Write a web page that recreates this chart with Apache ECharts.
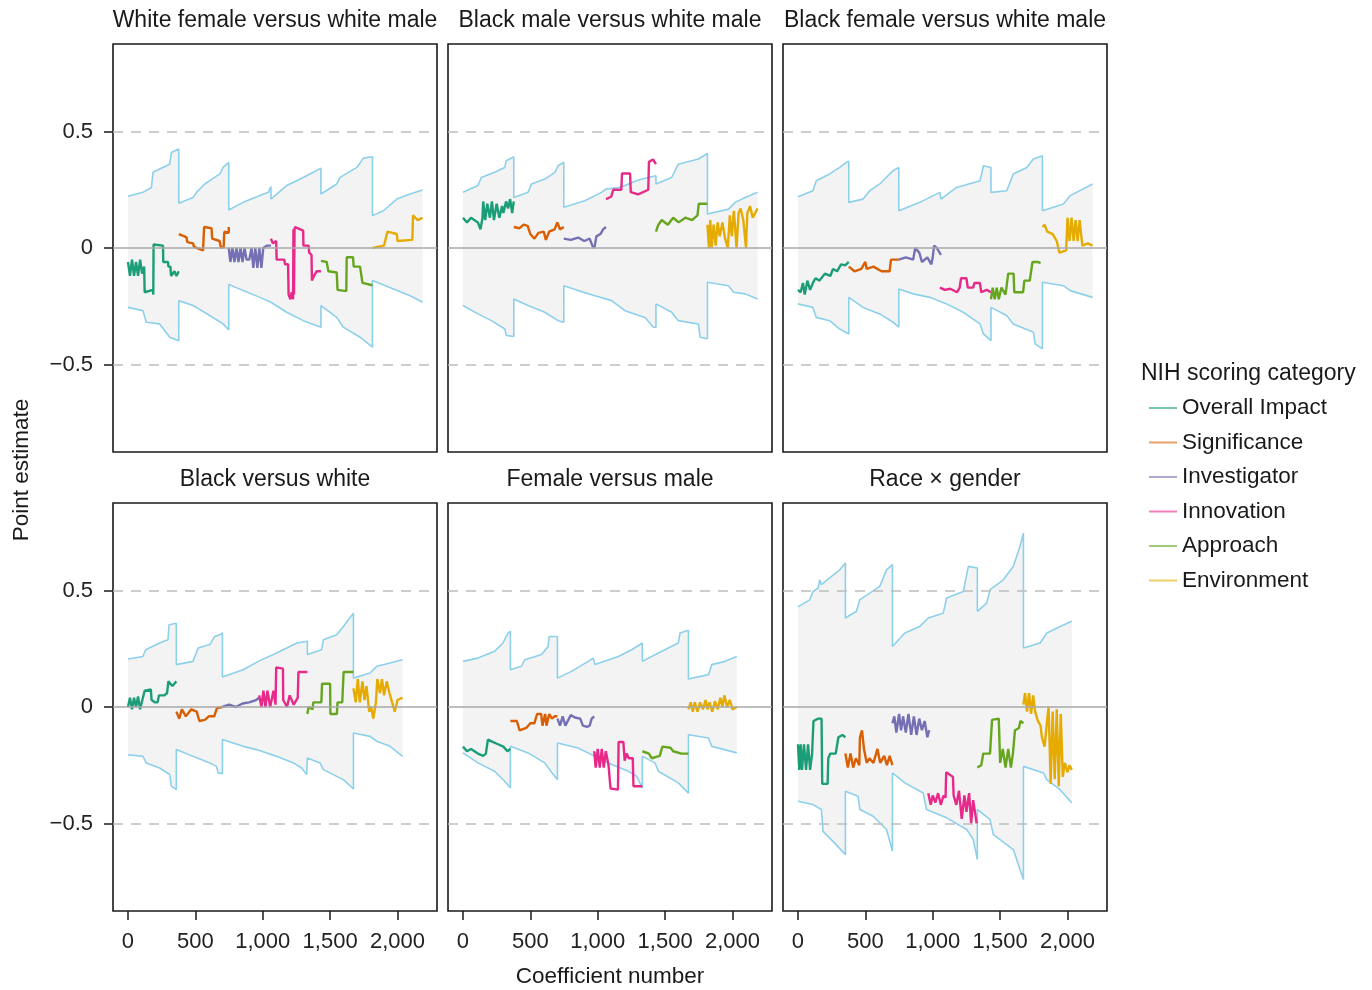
<!DOCTYPE html>
<html>
<head>
<meta charset="utf-8">
<script src="https://cdn.jsdelivr.net/npm/echarts@6/dist/echarts.min.js"></script>
<style>
html,body{margin:0;padding:0;background:#fff;}
#chart{width:1372px;height:990px;}
</style>
</head>
<body>
<div id="chart"></div>
<script>
// ---------- labels ----------
const panelTitles = ['White female versus white male','Black male versus white male','Black female versus white male','Black versus white','Female versus male','Race \u00d7 gender'];
const categories = ['Overall Impact','Significance','Investigator','Innovation','Approach','Environment'];
const xTicks = [0,500,1000,1500,2000];
const yTicks = [-0.5,0,0.5];
const legendTitle = 'NIH scoring category';
const xAxisTitle = 'Coefficient number';
const yAxisTitle = 'Point estimate';

// ---------- Panel A: White female versus white male ----------
const aUpper = [[0,0.222],[111,0.239],[174,0.26],[186,0.325],[235,0.339],[310,0.36],[322,0.41],[377,0.425],[377,0.192],[483,0.217],[508,0.239],[570,0.275],[607,0.289],[682,0.318],[706,0.346],[748,0.368],[748,0.163],[855,0.196],[979,0.225],[1041,0.239],[1061,0.264],[1061,0.21],[1177,0.268],[1252,0.289],[1351,0.318],[1432,0.343],[1432,0.232],[1549,0.275],[1574,0.303],[1698,0.346],[1747,0.386],[1814,0.392],[1814,0.139],[1896,0.16],[1995,0.21],[2094,0.232],[2186,0.249]];
const aLower = [[0,-0.255],[111,-0.269],[136,-0.319],[235,-0.326],[310,-0.383],[377,-0.398],[377,-0.226],[483,-0.247],[607,-0.29],[706,-0.326],[748,-0.352],[748,-0.157],[855,-0.183],[979,-0.212],[1061,-0.233],[1177,-0.276],[1301,-0.312],[1432,-0.34],[1432,-0.247],[1549,-0.298],[1598,-0.34],[1722,-0.383],[1814,-0.426],[1814,-0.14],[1970,-0.176],[2094,-0.205],[2186,-0.233]];
const aOI = [[0,-0.06],[15,-0.12],[30,-0.05],[45,-0.12],[60,-0.06],[75,-0.12],[90,-0.05],[105,-0.11],[120,-0.08],[124,-0.19],[185,-0.18],[188,-0.2],[190,0.015],[260,0.01],[262,-0.06],[297,-0.06],[300,-0.08],[315,-0.08],[320,-0.12],[345,-0.1],[360,-0.12],[377,-0.1]];
const aSig = [[377,0.06],[420,0.05],[435,0.045],[440,0.025],[483,0.02],[490,0.005],[557,-0.01],[565,0.09],[620,0.085],[625,0.04],[680,0.03],[690,0.0],[710,0.005],[715,0.07],[748,0.065],[748,0.09]];
const aInv = [[748,0.0],[760,-0.06],[775,0.0],[790,-0.06],[805,0.0],[820,-0.06],[835,0.0],[850,-0.06],[865,0.0],[880,-0.05],[900,-0.05],[917,0.0],[930,-0.085],[945,0.0],[960,-0.085],[975,0.0],[990,-0.085],[1004,0.0],[1030,0.01],[1061,0.01]];
const aInn = [[1061,0.04],[1075,0.02],[1100,0.03],[1103,-0.05],[1160,-0.05],[1165,-0.07],[1188,-0.07],[1192,-0.2],[1205,-0.22],[1215,-0.19],[1225,-0.22],[1228,0.08],[1232,-0.2],[1236,0.08],[1240,0.09],[1300,0.075],[1302,0.01],[1340,0.01],[1345,-0.02],[1362,-0.03],[1365,-0.14],[1380,-0.12],[1400,-0.1],[1432,-0.1]];
const aApp = [[1432,-0.055],[1475,-0.06],[1487,-0.1],[1549,-0.105],[1555,-0.18],[1620,-0.185],[1623,-0.04],[1670,-0.04],[1675,-0.08],[1722,-0.08],[1740,-0.15],[1814,-0.16]];
const aEnv = [[1814,0.0],[1900,0.01],[1925,0.07],[1995,0.06],[2000,0.03],[2110,0.035],[2115,0.14],[2150,0.12],[2186,0.13]];

// ---------- Panel B: Black male versus white male ----------
const bUpper = [[0,0.239],[111,0.268],[136,0.303],[235,0.325],[310,0.346],[322,0.375],[377,0.392],[377,0.217],[483,0.239],[508,0.275],[607,0.296],[682,0.325],[706,0.353],[748,0.368],[748,0.175],[904,0.203],[1028,0.239],[1061,0.253],[1153,0.26],[1202,0.268],[1301,0.292],[1376,0.303],[1432,0.31],[1432,0.275],[1549,0.303],[1598,0.36],[1747,0.382],[1814,0.406],[1814,0.146],[1970,0.167],[2020,0.196],[2094,0.217],[2186,0.239]];
const bLower = [[0,-0.247],[111,-0.283],[211,-0.312],[310,-0.348],[322,-0.376],[377,-0.38],[377,-0.219],[483,-0.247],[607,-0.276],[706,-0.312],[748,-0.319],[748,-0.162],[855,-0.183],[979,-0.205],[1103,-0.226],[1202,-0.269],[1351,-0.298],[1413,-0.34],[1432,-0.34],[1432,-0.24],[1549,-0.276],[1598,-0.312],[1747,-0.326],[1760,-0.383],[1814,-0.39],[1814,-0.147],[1970,-0.162],[2007,-0.19],[2094,-0.197],[2186,-0.219]];
const bOI = [[0,0.13],[30,0.11],[60,0.13],[111,0.11],[130,0.08],[145,0.13],[150,0.2],[165,0.12],[180,0.19],[200,0.13],[215,0.2],[230,0.12],[250,0.19],[270,0.13],[290,0.18],[300,0.15],[320,0.2],[335,0.17],[350,0.21],[365,0.15],[377,0.2]];
const bSig = [[377,0.09],[420,0.085],[450,0.1],[480,0.095],[500,0.06],[530,0.04],[560,0.065],[600,0.07],[615,0.035],[640,0.07],[680,0.08],[700,0.11],[720,0.08],[748,0.09]];
const bInv = [[748,0.04],[800,0.035],[855,0.045],[900,0.03],[940,0.04],[960,0.01],[975,0.0],[990,0.05],[1020,0.06],[1040,0.08],[1061,0.09]];
const bInn = [[1061,0.21],[1100,0.22],[1115,0.25],[1175,0.25],[1180,0.32],[1240,0.32],[1245,0.24],[1300,0.23],[1375,0.25],[1380,0.37],[1410,0.38],[1432,0.36]];
const bApp = [[1432,0.07],[1450,0.1],[1475,0.12],[1520,0.1],[1560,0.13],[1600,0.11],[1650,0.13],[1700,0.12],[1740,0.14],[1750,0.19],[1814,0.19]];
const bEnv = [[1814,0.1],[1825,0.0],[1835,0.12],[1845,0.0],[1860,0.1],[1875,0.01],[1890,0.11],[1905,0.05],[1925,0.11],[1945,0.04],[1965,0.0],[1980,0.14],[1995,0.05],[2010,0.16],[2030,0.0],[2045,0.15],[2060,0.17],[2080,0.12],[2100,0.0],[2110,0.15],[2130,0.18],[2150,0.13],[2186,0.17]];

// ---------- Panel C: Black female versus white male ----------
const cUpper = [[0,0.22],[111,0.246],[136,0.289],[235,0.318],[310,0.346],[359,0.368],[377,0.372],[377,0.196],[483,0.21],[533,0.246],[607,0.275],[706,0.332],[748,0.346],[748,0.16],[904,0.196],[1053,0.239],[1061,0.21],[1177,0.26],[1351,0.289],[1376,0.353],[1432,0.346],[1432,0.239],[1549,0.246],[1598,0.318],[1698,0.346],[1747,0.382],[1814,0.396],[1814,0.16],[1970,0.189],[2020,0.225],[2186,0.275]];
const cLower = [[0,-0.24],[111,-0.255],[136,-0.298],[235,-0.312],[310,-0.348],[377,-0.369],[377,-0.212],[483,-0.255],[607,-0.283],[706,-0.319],[748,-0.34],[748,-0.176],[855,-0.197],[979,-0.212],[1103,-0.24],[1227,-0.276],[1351,-0.326],[1376,-0.369],[1432,-0.398],[1432,-0.255],[1549,-0.29],[1598,-0.326],[1747,-0.362],[1760,-0.412],[1814,-0.433],[1814,-0.147],[1970,-0.162],[2020,-0.183],[2186,-0.212]];
const cOI = [[0,-0.18],[20,-0.19],[37,-0.15],[50,-0.2],[70,-0.14],[90,-0.18],[111,-0.15],[130,-0.13],[160,-0.14],[200,-0.11],[240,-0.12],[260,-0.09],[290,-0.1],[320,-0.07],[350,-0.075],[377,-0.06]];
const cSig = [[377,-0.08],[420,-0.1],[470,-0.09],[500,-0.06],[510,-0.09],[560,-0.08],[620,-0.1],[680,-0.1],[690,-0.05],[748,-0.05]];
const cInv = [[748,-0.05],[800,-0.04],[855,-0.05],[870,0.0],[900,-0.02],[920,-0.06],[960,-0.04],[990,-0.07],[1000,-0.04],[1010,0.01],[1030,0.0],[1061,-0.03]];
const cInn = [[1053,-0.17],[1090,-0.18],[1130,-0.175],[1180,-0.19],[1200,-0.17],[1210,-0.13],[1250,-0.13],[1260,-0.17],[1300,-0.17],[1310,-0.15],[1350,-0.15],[1360,-0.19],[1400,-0.18],[1432,-0.19]];
const cApp = [[1432,-0.22],[1445,-0.17],[1460,-0.22],[1475,-0.17],[1490,-0.22],[1510,-0.17],[1540,-0.2],[1560,-0.11],[1600,-0.11],[1605,-0.19],[1670,-0.19],[1680,-0.14],[1720,-0.14],[1740,-0.06],[1780,-0.06],[1800,-0.065]];
const cEnv = [[1814,0.09],[1830,0.1],[1850,0.07],[1890,0.06],[1920,0.03],[1940,-0.02],[1990,-0.01],[2000,0.13],[2015,0.03],[2030,0.13],[2045,0.03],[2060,0.12],[2075,0.03],[2090,0.12],[2110,0.01],[2150,0.02],[2186,0.01]];

// ---------- Panel D: Black versus white ----------
const dUpper = [[0,0.206],[111,0.217],[131,0.246],[235,0.275],[297,0.289],[305,0.353],[359,0.36],[359,0.182],[483,0.196],[520,0.253],[607,0.268],[644,0.303],[682,0.31],[701,0.318],[701,0.129],[855,0.16],[967,0.196],[979,0.203],[1103,0.232],[1252,0.275],[1331,0.282],[1331,0.225],[1437,0.246],[1450,0.289],[1549,0.31],[1598,0.346],[1673,0.403],[1673,0.124],[1797,0.146],[1846,0.175],[1945,0.189],[2037,0.203]];
const dLower = [[0,-0.205],[111,-0.212],[136,-0.24],[235,-0.262],[310,-0.29],[322,-0.34],[359,-0.355],[359,-0.183],[483,-0.212],[607,-0.24],[657,-0.255],[669,-0.283],[701,-0.286],[701,-0.14],[855,-0.169],[954,-0.183],[1103,-0.212],[1227,-0.24],[1289,-0.262],[1326,-0.29],[1331,-0.29],[1331,-0.219],[1425,-0.24],[1450,-0.269],[1598,-0.312],[1673,-0.352],[1673,-0.112],[1797,-0.126],[1846,-0.147],[1945,-0.169],[2037,-0.212]];
const dOI = [[0,0.0],[15,0.04],[30,-0.01],[45,0.04],[60,0.0],[75,0.045],[90,-0.01],[111,0.04],[124,0.07],[170,0.075],[175,0.03],[200,0.02],[220,0.02],[230,0.05],[270,0.05],[290,0.06],[300,0.11],[330,0.09],[359,0.11]];
const dSig = [[359,-0.02],[380,-0.05],[400,-0.01],[430,-0.04],[470,-0.01],[510,-0.02],[530,-0.06],[570,-0.055],[600,-0.04],[640,-0.04],[660,-0.005],[701,0.0]];
const dInv = [[701,0.0],[750,0.01],[800,0.0],[850,0.015],[900,0.02],[950,0.03],[974,0.04]];
const dInn = [[974,0.05],[990,0.0],[1005,0.07],[1020,0.0],[1035,0.07],[1055,0.0],[1080,0.07],[1095,0.01],[1100,0.17],[1150,0.165],[1152,0.03],[1180,0.0],[1200,0.05],[1230,0.01],[1260,0.04],[1265,0.15],[1300,0.15],[1331,0.15]];
const dApp = [[1331,-0.03],[1340,0.0],[1370,-0.01],[1375,0.02],[1435,0.02],[1440,0.1],[1500,0.1],[1502,-0.03],[1550,-0.03],[1555,0.02],[1590,0.02],[1600,0.15],[1673,0.15]];
const dEnv = [[1673,0.08],[1690,0.02],[1705,0.12],[1720,0.02],[1740,0.11],[1755,0.03],[1770,0.09],[1790,-0.02],[1805,0.0],[1820,-0.05],[1840,0.02],[1850,0.12],[1870,0.06],[1885,0.12],[1900,0.05],[1920,0.11],[1940,0.06],[1960,0.02],[1980,-0.02],[2000,0.03],[2037,0.04]];

// ---------- Panel E: Female versus male ----------
const eUpper = [[0,0.196],[111,0.21],[235,0.239],[297,0.275],[335,0.318],[352,0.325],[352,0.16],[434,0.175],[459,0.203],[583,0.225],[632,0.26],[640,0.303],[701,0.303],[701,0.124],[805,0.153],[929,0.196],[967,0.21],[979,0.182],[1153,0.217],[1252,0.246],[1331,0.275],[1331,0.196],[1450,0.232],[1598,0.275],[1611,0.318],[1673,0.33],[1673,0.12],[1822,0.139],[1846,0.182],[1945,0.196],[2032,0.217]];
const eLower = [[0,-0.197],[111,-0.24],[235,-0.276],[310,-0.319],[352,-0.348],[352,-0.169],[483,-0.197],[607,-0.24],[657,-0.28],[701,-0.312],[701,-0.155],[855,-0.176],[979,-0.212],[1103,-0.247],[1227,-0.276],[1289,-0.298],[1331,-0.348],[1331,-0.212],[1425,-0.24],[1450,-0.276],[1598,-0.326],[1673,-0.37],[1673,-0.119],[1822,-0.133],[1846,-0.169],[2032,-0.197]];
const eOI = [[0,-0.17],[30,-0.19],[60,-0.18],[111,-0.2],[150,-0.21],[170,-0.2],[185,-0.14],[220,-0.15],[260,-0.16],[300,-0.17],[330,-0.19],[352,-0.18]];
const eSig = [[352,-0.06],[400,-0.06],[420,-0.1],[470,-0.09],[500,-0.07],[530,-0.07],[550,-0.03],[580,-0.03],[590,-0.08],[610,-0.03],[620,-0.08],[640,-0.03],[660,-0.05],[680,-0.04],[701,-0.04]];
const eInv = [[701,-0.05],[720,-0.08],[740,-0.04],[760,-0.08],[800,-0.035],[830,-0.045],[870,-0.05],[890,-0.08],[920,-0.085],[940,-0.08],[955,-0.05],[974,-0.04]];
const eInn = [[974,-0.19],[985,-0.26],[1000,-0.18],[1015,-0.26],[1030,-0.18],[1045,-0.26],[1060,-0.19],[1080,-0.25],[1092,-0.25],[1095,-0.35],[1150,-0.355],[1155,-0.15],[1190,-0.15],[1200,-0.23],[1215,-0.2],[1230,-0.22],[1260,-0.22],[1265,-0.34],[1331,-0.34]];
const eApp = [[1331,-0.19],[1380,-0.2],[1400,-0.22],[1460,-0.21],[1480,-0.17],[1540,-0.175],[1560,-0.19],[1620,-0.2],[1673,-0.2]];
const eEnv = [[1673,-0.01],[1690,0.02],[1705,-0.02],[1720,0.02],[1740,-0.02],[1760,0.02],[1780,-0.01],[1800,0.03],[1815,-0.01],[1830,0.02],[1850,-0.02],[1870,0.025],[1890,-0.01],[1910,0.04],[1925,0.0],[1940,0.05],[1960,0.0],[1980,0.03],[2000,-0.01],[2032,0.0]];

// ---------- Panel F: Race x gender ----------
const fUpper = [[0,0.43],[87,0.46],[111,0.496],[149,0.51],[161,0.546],[174,0.525],[235,0.554],[310,0.589],[352,0.618],[352,0.382],[434,0.411],[459,0.461],[533,0.489],[607,0.518],[657,0.589],[701,0.611],[701,0.26],[793,0.318],[904,0.346],[967,0.382],[1078,0.403],[1103,0.468],[1227,0.496],[1264,0.604],[1331,0.597],[1331,0.411],[1400,0.446],[1425,0.504],[1524,0.546],[1598,0.604],[1648,0.69],[1673,0.747],[1673,0.253],[1797,0.275],[1846,0.318],[1945,0.346],[2032,0.368]];
const fLower = [[0,-0.405],[111,-0.419],[174,-0.44],[186,-0.534],[260,-0.577],[352,-0.634],[352,-0.362],[446,-0.383],[459,-0.44],[558,-0.469],[657,-0.526],[701,-0.619],[701,-0.283],[793,-0.326],[929,-0.369],[954,-0.44],[1103,-0.476],[1252,-0.526],[1301,-0.569],[1331,-0.655],[1331,-0.44],[1425,-0.484],[1450,-0.548],[1598,-0.612],[1648,-0.698],[1673,-0.741],[1673,-0.255],[1822,-0.283],[1846,-0.312],[1945,-0.355],[2032,-0.412]];
const fOI = [[0,-0.16],[10,-0.27],[20,-0.16],[30,-0.27],[45,-0.16],[60,-0.27],[75,-0.16],[90,-0.27],[105,-0.2],[115,-0.06],[150,-0.05],[175,-0.05],[180,-0.33],[220,-0.33],[225,-0.22],[240,-0.2],[280,-0.2],[300,-0.13],[330,-0.12],[352,-0.13]];
const fSig = [[352,-0.2],[370,-0.26],[390,-0.2],[410,-0.26],[430,-0.22],[455,-0.25],[460,-0.13],[475,-0.1],[490,-0.18],[510,-0.24],[530,-0.22],[560,-0.24],[590,-0.18],[610,-0.24],[640,-0.21],[660,-0.25],[680,-0.21],[701,-0.25]];
const fInv = [[701,-0.07],[715,-0.04],[730,-0.11],[750,-0.03],[765,-0.1],[780,-0.04],[800,-0.11],[820,-0.03],[840,-0.12],[860,-0.04],[880,-0.12],[900,-0.05],[920,-0.1],[940,-0.06],[960,-0.13],[974,-0.1]];
const fInn = [[967,-0.37],[985,-0.42],[1000,-0.38],[1020,-0.41],[1040,-0.37],[1060,-0.42],[1080,-0.38],[1095,-0.39],[1100,-0.28],[1150,-0.3],[1155,-0.38],[1175,-0.42],[1195,-0.36],[1215,-0.48],[1235,-0.38],[1250,-0.45],[1270,-0.37],[1285,-0.5],[1300,-0.4],[1326,-0.5]];
const fApp = [[1331,-0.26],[1360,-0.25],[1375,-0.2],[1425,-0.2],[1440,-0.055],[1490,-0.05],[1500,-0.24],[1520,-0.18],[1540,-0.26],[1560,-0.18],[1580,-0.26],[1595,-0.2],[1610,-0.1],[1640,-0.09],[1650,-0.06],[1673,-0.07]];
const fEnv = [[1673,0.01],[1685,0.06],[1700,-0.02],[1715,0.06],[1730,-0.03],[1745,0.05],[1760,-0.02],[1780,-0.06],[1800,-0.08],[1810,-0.13],[1830,-0.17],[1850,-0.05],[1860,0.0],[1875,-0.33],[1890,-0.02],[1905,-0.31],[1920,-0.01],[1935,-0.34],[1950,-0.03],[1965,-0.3],[1980,-0.24],[2000,-0.28],[2015,-0.25],[2032,-0.27]];

// ---------- assembly ----------
const panels = [
  {upper:aUpper, lower:aLower, cats:[aOI,aSig,aInv,aInn,aApp,aEnv]},
  {upper:bUpper, lower:bLower, cats:[bOI,bSig,bInv,bInn,bApp,bEnv]},
  {upper:cUpper, lower:cLower, cats:[cOI,cSig,cInv,cInn,cApp,cEnv]},
  {upper:dUpper, lower:dLower, cats:[dOI,dSig,dInv,dInn,dApp,dEnv]},
  {upper:eUpper, lower:eLower, cats:[eOI,eSig,eInv,eInn,eApp,eEnv]},
  {upper:fUpper, lower:fLower, cats:[fOI,fSig,fInv,fInn,fApp,fEnv]}
];

const FONT = '"Liberation Sans", Arial, Helvetica, sans-serif';
const catColors = ['#1B9E77','#D95F02','#7570B3','#E7298A','#66A61E','#E6AB02'];
const bandColor = '#8dd0ea';
const fillColor = '#f3f3f3';
const colLeft = [113, 448, 783];
const rowTop = [44, 503];
const panelW = 324, panelH = 408;
const yLim = 0.876, xMin = -111, xMax = 2293;

const grids = [], xAxes = [], yAxes = [], series = [], graphics = [];
panels.forEach((p, i) => {
  const col = i % 3, row = Math.floor(i / 3);
  grids.push({left: colLeft[col], top: rowTop[row], width: panelW, height: panelH,
    show: true, borderColor: '#1a1a1a', borderWidth: 1.6, backgroundColor: 'rgba(0,0,0,0)', containLabel: false});
  xAxes.push({type: 'value', gridIndex: i, min: xMin, max: xMax, position: 'bottom',
    axisLine: {show: false, onZero: false}, splitLine: {show: false},
    axisTick: {show: row === 1, inside: false, customValues: xTicks, length: 9, lineStyle: {color: '#1a1a1a', width: 1.5}},
    axisLabel: {show: row === 1, customValues: xTicks, margin: 20, fontSize: 22, fontFamily: FONT, color: '#222',
      formatter: v => Number(v).toLocaleString('en-US')}});
  yAxes.push({type: 'value', gridIndex: i, min: -yLim, max: yLim, position: 'left',
    axisLine: {show: false, onZero: false}, splitLine: {show: false},
    axisTick: {show: col === 0, inside: false, customValues: yTicks, length: 9, lineStyle: {color: '#1a1a1a', width: 1.5}},
    axisLabel: {show: col === 0, customValues: yTicks, margin: 20, fontSize: 22, fontFamily: FONT, color: '#222',
      formatter: v => (v === 0 ? '0' : (v < 0 ? '\u2212' + Math.abs(v) : String(v)))}});
  // confidence band
  [p.upper, p.lower].forEach(d => {
    series.push({type: 'line', xAxisIndex: i, yAxisIndex: i, data: d, symbol: 'none', silent: true,
      lineStyle: {color: bandColor, width: 1.6}, areaStyle: {color: fillColor, opacity: 1, origin: 0}, z: 1, animation: false});
  });
  // reference lines
  series.push({type: 'line', xAxisIndex: i, yAxisIndex: i, data: [], symbol: 'none', silent: true, z: 2, animation: false,
    markLine: {silent: true, symbol: ['none','none'], label: {show: false}, animation: false,
      data: [
        {yAxis: 0, lineStyle: {type: 'solid', color: '#a8a8a8', width: 1.6}},
        {yAxis: 0.5, lineStyle: {type: [10, 8], color: '#bdbdbd', width: 1.6}},
        {yAxis: -0.5, lineStyle: {type: [10, 8], color: '#bdbdbd', width: 1.6}}
      ]}});
  // category estimates
  p.cats.forEach((d, k) => {
    series.push({type: 'line', name: categories[k], xAxisIndex: i, yAxisIndex: i, data: d, symbol: 'none',
      itemStyle: {color: catColors[k]}, lineStyle: {color: catColors[k], width: 2.4}, z: 3, animation: false});
  });
  // panel title
  graphics.push({type: 'text', x: colLeft[col] + panelW / 2, y: rowTop[row] - 23,
    style: {text: panelTitles[i], font: '23px ' + FONT, fill: '#1a1a1a', textAlign: 'center', textVerticalAlign: 'middle'}});
});

graphics.push({type: 'text', x: 22, y: 470, rotation: Math.PI / 2,
  style: {text: yAxisTitle, font: '22.5px ' + FONT, fill: '#1a1a1a', textAlign: 'center', textVerticalAlign: 'middle'}});
graphics.push({type: 'text', x: 610, y: 977,
  style: {text: xAxisTitle, font: '22.5px ' + FONT, fill: '#1a1a1a', textAlign: 'center', textVerticalAlign: 'middle'}});
graphics.push({type: 'text', x: 1141, y: 374,
  style: {text: legendTitle, font: '23px ' + FONT, fill: '#1a1a1a', textAlign: 'left', textVerticalAlign: 'middle'}});

const chart = echarts.init(document.getElementById('chart'), null, {renderer: 'canvas'});
chart.setOption({
  animation: false,
  backgroundColor: '#ffffff',
  grid: grids, xAxis: xAxes, yAxis: yAxes, series: series,
  legend: {orient: 'vertical', left: 1144, top: 391, icon: 'rect', itemWidth: 28, itemHeight: 2, itemGap: 10.5,
    selectedMode: false,
    textStyle: {fontSize: 22.5, fontFamily: FONT, color: '#1a1a1a', lineHeight: 24},
    data: categories.map(c => ({name: c, itemStyle: {opacity: 0.6}}))},
  graphic: graphics
});
</script>
</body>
</html>
